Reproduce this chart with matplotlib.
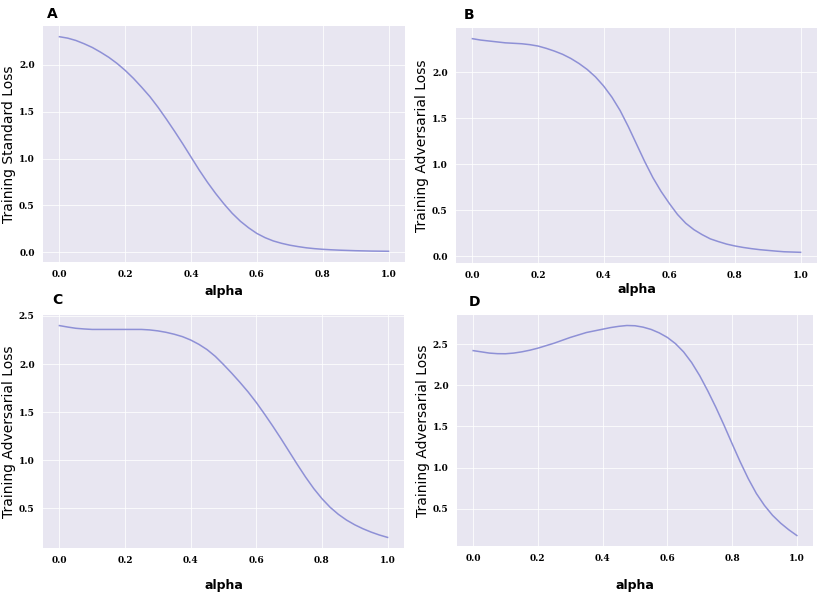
import matplotlib
matplotlib.use("Agg")
import matplotlib.pyplot as plt

# values, alpha step 0.025
alpha = [i / 40 for i in range(41)]

loss_a = [2.30, 2.285, 2.26, 2.225, 2.185, 2.135, 2.08, 2.015, 1.94, 1.855,
          1.76, 1.66, 1.545, 1.42, 1.29, 1.155, 1.015, 0.875, 0.745, 0.625,
          0.515, 0.415, 0.33, 0.26, 0.20, 0.155, 0.12, 0.095, 0.075, 0.06,
          0.047, 0.038, 0.031, 0.026, 0.022, 0.019, 0.016, 0.014, 0.012, 0.011,
          0.010]
loss_b = [2.365, 2.35, 2.34, 2.33, 2.32, 2.315, 2.31, 2.30, 2.285, 2.26,
          2.23, 2.195, 2.15, 2.095, 2.03, 1.95, 1.85, 1.73, 1.585, 1.41,
          1.22, 1.03, 0.855, 0.705, 0.575, 0.455, 0.36, 0.29, 0.236, 0.19,
          0.16, 0.133, 0.113, 0.097, 0.084, 0.073, 0.065, 0.057, 0.05, 0.047,
          0.044]
loss_c = [2.40, 2.385, 2.372, 2.365, 2.36, 2.36, 2.36, 2.36, 2.36, 2.36,
          2.36, 2.355, 2.345, 2.33, 2.31, 2.285, 2.25, 2.205, 2.15, 2.08,
          1.995, 1.905, 1.81, 1.71, 1.60, 1.48, 1.355, 1.225, 1.09, 0.955,
          0.825, 0.705, 0.60, 0.51, 0.437, 0.377, 0.328, 0.287, 0.252, 0.222,
          0.197]
loss_d = [2.42, 2.405, 2.39, 2.383, 2.382, 2.39, 2.405, 2.425, 2.45, 2.48,
          2.51, 2.545, 2.58, 2.61, 2.64, 2.66, 2.68, 2.70, 2.715, 2.725,
          2.722, 2.705, 2.677, 2.635, 2.58, 2.505, 2.405, 2.275, 2.115, 1.93,
          1.73, 1.515, 1.29, 1.07, 0.865, 0.685, 0.54, 0.42, 0.325, 0.245,
          0.175]

panels = ["A", "B", "C", "D"]
ylabels = ["Training Standard Loss", "Training Adversarial Loss",
           "Training Adversarial Loss", "Training Adversarial Loss"]
series = [loss_a, loss_b, loss_c, loss_d]

W, H = 830, 597
# axes boxes in pixels: left, top, right, bottom
boxes = [(43, 26, 405, 262), (456, 28, 817, 263),
         (43, 315, 404, 548), (457, 315, 813, 546)]
label_pos = [(47, 14), (464, 15), (52, 300), (469, 302)]
xlabel_y = [291, 290, 585, 585]

bg = "#E8E6F1"
line_color = "#8E90D6"

fig = plt.figure(figsize=(W / 100, H / 100), dpi=100)

for i in range(4):
    l, t, r, b = boxes[i]
    ax = fig.add_axes([l / W, 1 - b / H, (r - l) / W, (b - t) / H])
    ax.set_facecolor(bg)
    for s in ax.spines.values():
        s.set_visible(False)
    ax.grid(True, color="white", linewidth=0.7, alpha=0.8)
    ax.set_axisbelow(True)
    ax.plot(alpha, series[i], color=line_color, linewidth=1.1)
    ax.tick_params(length=0, pad=6)
    ax.set_xticks([0.0, 0.2, 0.4, 0.6, 0.8, 1.0])
    for lab in ax.get_xticklabels() + ax.get_yticklabels():
        lab.set_fontfamily("DejaVu Serif")
        lab.set_fontweight("bold")
        lab.set_fontsize(6.5)
    ax.set_ylabel(ylabels[i], fontsize=10, labelpad=2)
    fig.text((l + r) / 2 / W, 1 - xlabel_y[i] / H, "alpha", ha="center",
             va="center", fontsize=9, fontweight="bold")
    fig.text(label_pos[i][0] / W, 1 - label_pos[i][1] / H, panels[i],
             ha="left", va="center", fontsize=10, fontweight="bold")

plt.savefig("out.png", dpi=100)
